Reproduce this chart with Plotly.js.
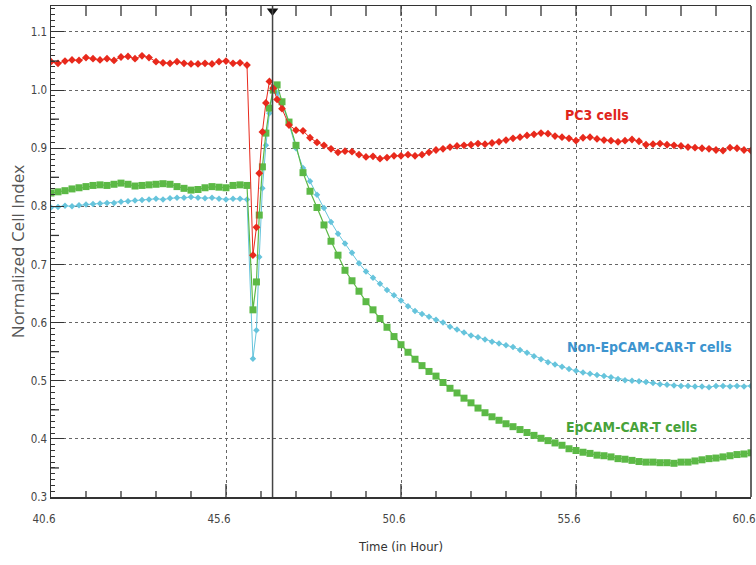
<!DOCTYPE html>
<html>
<head>
<meta charset="utf-8">
<script src="https://cdn.plot.ly/plotly-3.0.1.min.js"></script>
<style>html,body{margin:0;padding:0;background:#fff;}#chart{width:756px;height:565px;}</style>
</head>
<body>
<div id="chart"></div>
<script>
// ---- Data ----
var eventTime = 46.93;
var markerY = 1.136;

var preTime = [40.6,40.8,41.0,41.2,41.4,41.6,41.8,42.0,42.2,42.4,42.6,42.8,43.0,43.2,43.4,43.6,43.8,44.0,44.2,44.4,44.6,44.8,45.0,45.2,45.4,45.6,45.8,46.0,46.2];
var dipTime = [46.37,46.47,46.55,46.64,46.74,46.84,46.95,47.06];
var postTime = [47.2,47.4,47.6,47.8,48.0,48.2,48.4,48.6,48.8,49.0,49.2,49.4,49.6,49.8,50.0,50.2,50.4,50.6,50.8,51.0,51.2,51.4,51.6,51.8,52.0,52.2,52.4,52.6,52.8,53.0,53.2,53.4,53.6,53.8,54.0,54.2,54.4,54.6,54.8,55.0,55.2,55.4,55.6,55.8,56.0,56.2,56.4,56.6,56.8,57.0,57.2,57.4,57.6,57.8,58.0,58.2,58.4,58.6,58.8,59.0,59.2,59.4,59.6,59.8,60.0,60.2,60.4,60.6];

var pc3Pre = [1.049,1.046,1.050,1.052,1.051,1.056,1.054,1.052,1.054,1.051,1.057,1.058,1.054,1.059,1.056,1.049,1.047,1.046,1.049,1.046,1.045,1.045,1.046,1.045,1.049,1.050,1.046,1.047,1.043];
var pc3Dip = [0.716,0.764,0.857,0.928,0.978,1.015,1.003,0.984];
var pc3Post = [0.968,0.940,0.931,0.930,0.918,0.910,0.905,0.899,0.893,0.895,0.894,0.889,0.885,0.886,0.882,0.884,0.887,0.887,0.889,0.887,0.889,0.893,0.897,0.899,0.902,0.904,0.905,0.906,0.908,0.907,0.909,0.911,0.914,0.917,0.919,0.922,0.924,0.926,0.925,0.921,0.919,0.917,0.913,0.918,0.919,0.916,0.914,0.913,0.911,0.913,0.915,0.912,0.906,0.907,0.908,0.906,0.905,0.904,0.902,0.901,0.900,0.899,0.897,0.896,0.901,0.900,0.897,0.896];

var nonPre = [0.798,0.799,0.801,0.800,0.802,0.803,0.804,0.805,0.806,0.806,0.808,0.809,0.810,0.811,0.812,0.813,0.812,0.814,0.815,0.815,0.816,0.815,0.814,0.815,0.813,0.812,0.813,0.813,0.812];
var nonDip = [0.538,0.587,0.713,0.831,0.905,0.960,1.004,0.995];
var nonPost = [0.978,0.942,0.900,0.866,0.843,0.820,0.797,0.773,0.753,0.736,0.720,0.702,0.688,0.677,0.667,0.656,0.647,0.638,0.628,0.620,0.615,0.610,0.605,0.600,0.593,0.588,0.583,0.578,0.575,0.571,0.567,0.564,0.561,0.558,0.553,0.548,0.542,0.537,0.532,0.528,0.524,0.520,0.517,0.514,0.512,0.510,0.508,0.506,0.503,0.501,0.500,0.499,0.498,0.496,0.494,0.493,0.492,0.491,0.491,0.490,0.490,0.489,0.491,0.491,0.490,0.491,0.490,0.491];

var epPre = [0.823,0.825,0.827,0.830,0.832,0.834,0.836,0.837,0.836,0.838,0.840,0.838,0.835,0.836,0.837,0.838,0.839,0.838,0.834,0.831,0.828,0.829,0.832,0.834,0.833,0.832,0.836,0.837,0.836];
var epDip = [0.622,0.670,0.785,0.868,0.926,0.969,1.000,1.009];
var epPost = [0.980,0.945,0.905,0.858,0.826,0.798,0.768,0.740,0.716,0.690,0.672,0.654,0.636,0.622,0.607,0.592,0.576,0.562,0.549,0.537,0.526,0.516,0.508,0.497,0.487,0.479,0.470,0.462,0.453,0.445,0.438,0.432,0.426,0.421,0.416,0.411,0.406,0.401,0.397,0.393,0.389,0.383,0.380,0.377,0.375,0.372,0.371,0.369,0.366,0.365,0.363,0.361,0.360,0.360,0.359,0.359,0.358,0.360,0.360,0.362,0.364,0.366,0.367,0.369,0.371,0.373,0.374,0.376];

var seriesNames = ["PC3 cells", "Non-EpCAM-CAR-T cells", "EpCAM-CAR-T cells"];
var labelX = [56.21, 57.69, 57.18];
var labelY = [0.957, 0.558, 0.420];

// axis tick positions (axis decoration)
var xMajorTicks = [45.6, 50.6, 55.6];
var xHourTicks = [41.6,42.6,43.6,44.6,45.6,46.6,47.6,48.6,49.6,50.6,51.6,52.6,53.6,54.6,55.6,56.6,57.6,58.6,59.6];
var yMidTicks = [0.35,0.45,0.55,0.65,0.75,0.85,0.95,1.05];

// ---- Build traces ----
var time = preTime.concat(dipTime, postTime);
var pc3 = pc3Pre.concat(pc3Dip, pc3Post);
var nonEp = nonPre.concat(nonDip, nonPost);
var ep = epPre.concat(epDip, epPost);

var RED = '#e8291c', BLUE = '#66c4dc', GREEN = '#5cb946';
var narrow = 'DejaVu Sans Condensed, sans-serif';
var xRange = [40.6, 60.6], yRange = [0.3, 1.1447];
var plotW = 756 - 51 - 5, plotH = 565 - 6 - 68;

var traces = [
  {x: time, y: nonEp, type: 'scatter', mode: 'lines+markers', name: seriesNames[1],
   line: {color: BLUE, width: 1}, marker: {symbol: 'diamond', size: 5, color: BLUE}},
  {x: time, y: ep, type: 'scatter', mode: 'lines+markers', name: seriesNames[2],
   line: {color: GREEN, width: 1.2}, marker: {symbol: 'square', size: 7, color: GREEN}},
  {x: time, y: pc3, type: 'scatter', mode: 'lines+markers', name: seriesNames[0],
   line: {color: RED, width: 1}, marker: {symbol: 'diamond', size: 6, color: RED}},
  {x: [eventTime], y: [markerY], type: 'scatter', mode: 'markers', cliponaxis: false,
   marker: {symbol: 'triangle-down', size: 10, color: '#111'}, hoverinfo: 'skip'}
];

var shapes = [
  {type: 'line', xref: 'x', yref: 'paper', x0: eventTime, x1: eventTime, y0: 0, y1: 1,
   line: {color: '#444', width: 1.5}},
  {type: 'line', xref: 'paper', yref: 'paper', x0: 1, x1: 1, y0: 0, y1: 1,
   line: {color: '#333', width: 1.5}}
];
var tickLine = {color: '#333', width: 1.3};
xHourTicks.forEach(function (h) {
  var isMajor = xMajorTicks.indexOf(h) >= 0;
  shapes.push({type: 'line', xref: 'x', yref: 'paper', x0: h, x1: h, y0: 0,
               y1: (isMajor ? 13 : 6) / plotH, line: tickLine});
  shapes.push({type: 'line', xref: 'x', yref: 'paper', x0: h, x1: h, y0: 1 - 10 / plotH,
               y1: 1, line: tickLine});
});
yMidTicks.forEach(function (v) {
  shapes.push({type: 'line', xref: 'paper', yref: 'y', x0: 0, x1: 8 / plotW, y0: v, y1: v, line: tickLine});
});

var layout = {
  width: 756, height: 565,
  margin: {l: 51, r: 5, t: 6, b: 68},
  paper_bgcolor: '#fff', plot_bgcolor: '#fff',
  showlegend: false,
  font: {family: narrow, size: 12, color: '#444'},
  xaxis: {
    range: xRange, tick0: 40.6, dtick: 5, tickformat: '.1f',
    ticks: '', showline: true, linecolor: '#333', linewidth: 1.5, mirror: true,
    showgrid: true, gridcolor: '#666', griddash: 'dot', gridwidth: 1,
    zeroline: false, ticklabeloverflow: 'allow', ticklabelshift: -7, ticklabelstandoff: 11,
    tickfont: {family: narrow, size: 11.5, color: '#444'},
    title: {text: 'Time (in Hour)', font: {family: narrow, size: 13, color: '#333'}, standoff: 16}
  },
  yaxis: {
    range: yRange, tick0: 0.3, dtick: 0.1, tickformat: '.1f',
    ticks: 'inside', ticklen: 13, tickcolor: '#333',
    showline: true, linecolor: '#333', linewidth: 1.5,
    showgrid: true, gridcolor: '#666', griddash: 'dot', gridwidth: 1,
    zeroline: false,
    tickfont: {family: narrow, size: 11.5, color: '#444'},
    minor: {ticks: 'inside', dtick: 0.01, ticklen: 4, tickcolor: '#333'},
    title: {text: 'Normalized Cell Index', font: {family: 'Open Sans, sans-serif', size: 17, color: '#555'}, standoff: 2}
  },
  shapes: shapes,
  annotations: [
    {x: labelX[0], y: labelY[0], xref: 'x', yref: 'y', text: '<b>' + seriesNames[0] + '</b>', showarrow: false,
     font: {family: narrow, size: 14, color: '#e0261c'}},
    {x: labelX[1], y: labelY[1], xref: 'x', yref: 'y', text: '<b>' + seriesNames[1] + '</b>', showarrow: false,
     font: {family: narrow, size: 14, color: '#3d94cf'}},
    {x: labelX[2], y: labelY[2], xref: 'x', yref: 'y', text: '<b>' + seriesNames[2] + '</b>', showarrow: false,
     font: {family: narrow, size: 14, color: '#47a23a'}}
  ]
};

Plotly.newPlot('chart', traces, layout, {staticPlot: true, displayModeBar: false});
</script>
</body>
</html>
